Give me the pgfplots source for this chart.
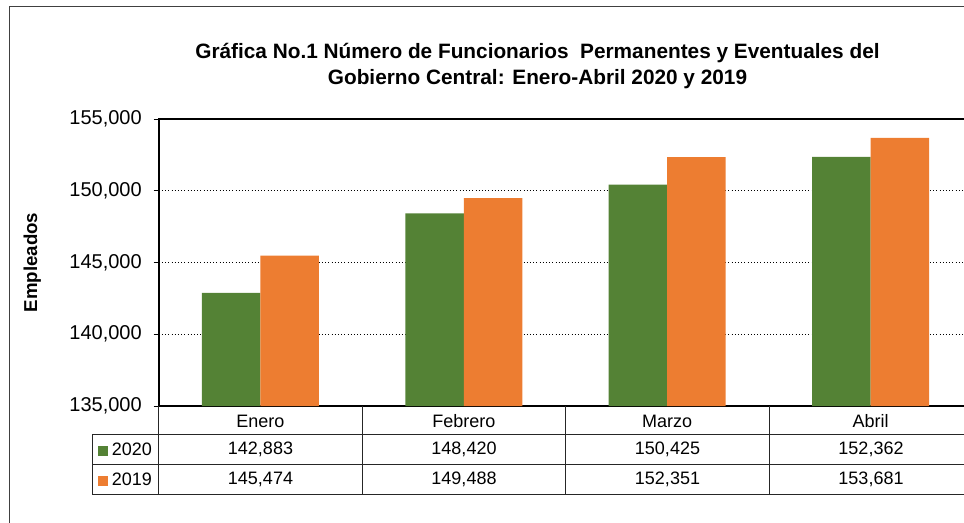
\documentclass[border=0pt]{standalone}
\usepackage{pgfplots}
\pgfplotsset{compat=1.18}
\usepackage{fontspec}
\setmainfont{Liberation Sans}
\definecolor{gverde}{HTML}{548235}
\definecolor{gnaranja}{HTML}{ED7D31}
\begin{document}
\begin{tikzpicture}
\path[use as bounding box] (0,0) rectangle (723pt,391.5pt);
\clip (0,0) rectangle (723pt,391.5pt);
\begin{axis}[
  at={(119.06pt,87pt)}, anchor=south west,
  scale only axis, width=610.1pt, height=215.25pt,
  xmin=-0.5, xmax=3.5, ymin=135000, ymax=155000,
  ytick={135000,140000,145000,150000,155000},
  scaled y ticks=false,
  xtick={0,1,2,3},
  xticklabels={Enero,Febrero,Marzo,Abril},
  xtick style={draw=none},
  ytick style={black, line width=0.6pt},
  ytick pos=left,
  tick align=outside,
  major tick length=3.75pt,
  axis line style={black, line width=1.6pt, -},
  ymajorgrids,
  grid style={black, dotted, line width=0.7pt},
  /pgf/number format/.cd, fixed, 1000 sep={,}, assume math mode=true,
  /pgfplots/.cd,
  yticklabel style={font=\fontsize{15}{18}\selectfont, xshift=-5.5pt},
  xticklabel style={font=\fontsize{13.5}{16}\selectfont, anchor=center, yshift=-7.5pt},
  ylabel={Empleados},
  ylabel style={font=\bfseries\fontsize{14}{16}\selectfont, at={(axis description cs:-0.1555,0.5)}, anchor=center},
  title={Gráfica No.1 Número de Funcionarios\ \ Permanentes y Eventuales del\\Gobierno Central: Enero-Abril 2020 y 2019},
  title style={font=\bfseries\fontsize{15.6}{19.5}\selectfont, align=center, at={(axis description cs:0.4656,1.155)}, anchor=center},
  ybar, bar width=0.2875,
  clip=true,
  legend style={draw=none, fill=none, inner sep=0pt, outer sep=0pt,
    at={(axis description cs:-0.0747,-0.2021)}, anchor=west,
    font=\fontsize{13.5}{16}\selectfont, row sep=12.5pt,
    nodes={inner sep=0pt, text height=9.7pt, text depth=0pt},
    /tikz/every odd column/.append style={column sep=3pt}},
  legend cell align=left,
  legend image code/.code={\fill[#1] (0pt,-5.25pt) rectangle (7.5pt,2.25pt);},
]
\addplot[fill=gverde, draw=none, bar shift=-0.14375] coordinates {(0,142883) (1,148420) (2,150425) (3,152362)};
\addplot[fill=gnaranja, draw=none, bar shift=0.14375] coordinates {(0,145474) (1,149488) (2,152351) (3,153681)};
\legend{2020,2019}
\end{axis}
\begin{scope}[x=0.75pt,y=0.75pt]
  % outer frame
  \draw[black!75, line width=0.75pt] (9,-10) -- (9,515) -- (980,515);
  % data table lines
  \draw[black!85, line width=0.75pt] (92,88) -- (980,88);
  \draw[black!85, line width=0.75pt] (92,58) -- (980,58);
  \draw[black!85, line width=0.75pt] (92,28) -- (980,28);
  \draw[black!85, line width=0.75pt] (92,88) -- (92,28);
  \foreach \xx in {158.75,362.25,565.75,769.25} {
    \draw[black!85, line width=0.75pt] (\xx,116) -- (\xx,28);
  }
  \begin{scope}[every node/.style={font=\fontsize{13.5}{16}\selectfont, inner sep=0pt, anchor=center}]
    \node at (260.5,73) {142,883};
    \node at (464,73) {148,420};
    \node at (667.5,73) {150,425};
    \node at (871,73) {152,362};
    \node at (260.5,43) {145,474};
    \node at (464,43) {149,488};
    \node at (667.5,43) {152,351};
    \node at (871,43) {153,681};
  \end{scope}
\end{scope}
\end{tikzpicture}
\end{document}
